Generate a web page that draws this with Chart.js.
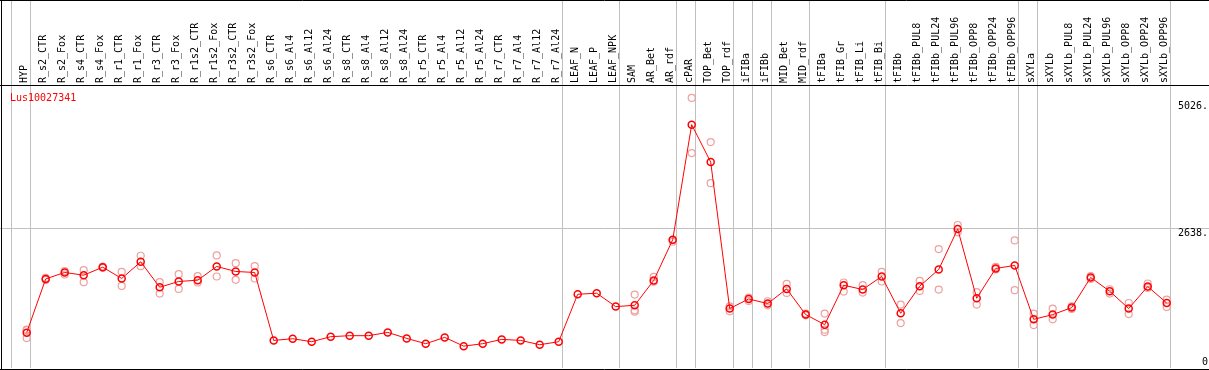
<!DOCTYPE html>
<html><head><meta charset="utf-8">
<script src="https://cdn.jsdelivr.net/npm/chart.js@4.4.1/dist/chart.umd.min.js"></script>
<style>html,body{margin:0;padding:0;background:#fff}canvas{display:block}</style>
</head><body>
<canvas id="c" width="1209" height="370"></canvas>
<script>
const geneName = 'Lus10027341';
const categories = ['HYP','R_s2_CTR','R_s2_Fox','R_s4_CTR','R_s4_Fox','R_r1_CTR','R_r1_Fox','R_r3_CTR','R_r3_Fox','R_r1s2_CTR','R_r1s2_Fox','R_r3s2_CTR','R_r3s2_Fox','R_s6_CTR','R_s6_Al4','R_s6_Al12','R_s6_Al24','R_s8_CTR','R_s8_Al4','R_s8_Al12','R_s8_Al24','R_r5_CTR','R_r5_Al4','R_r5_Al12','R_r5_Al24','R_r7_CTR','R_r7_Al4','R_r7_Al12','R_r7_Al24','LEAF_N','LEAF_P','LEAF_NPK','SAM','AR_Bet','AR_rdf','cPAR','TOP_Bet','TOP_rdf','iFIBa','iFIBb','MID_Bet','MID_rdf','tFIBa','tFIB_Gr','tFIB_Li','tFIB_Bi','tFIBb','tFIBb_PUL8','tFIBb_PUL24','tFIBb_PUL96','tFIBb_OPP8','tFIBb_OPP24','tFIBb_OPP96','sXYLa','sXYLb','sXYLb_PUL8','sXYLb_PUL24','sXYLb_PUL96','sXYLb_OPP8','sXYLb_OPP24','sXYLb_OPP96'];
const meanValues = [666,1679,1800,1749,1900,1687,2001,1522,1630,1655,1914,1819,1800,
  520,552,495,590,609,609,671,558,458,577,412,458,539,520,439,495,
  1390,1409,1157,1182,1649,2417,4586,3880,1120,1301,1214,1490,1006,
  817,1560,1479,1725,1031,1541,1857,2619,1314,1876,1933,
  917,1006,1138,1706,1447,1120,1536,1225];
const rep1 = [722,1698,1825,1844,1913,1812,2115,1617,1768,1730,2121,1976,1919,
  null,null,null,null,null,null,null,null,null,null,null,null,null,null,null,null,null,null,null,
  1384,1717,2411,5090,4258,1163,1327,1258,1585,1025,1025,1611,1560,1812,
  1195,1641,2241,2695,1428,1906,2405,1025,1119,1163,1730,1484,1225,1592,1290];
const rep2 = [564,1660,1762,1617,1888,1547,1919,1403,1491,1611,1724,1661,1687,
  null,null,null,null,null,null,null,null,null,null,null,null,null,null,null,null,null,null,null,
  1062,1623,2379,4050,3483,1068,1264,1182,1415,993,722,1441,1422,1630,
  847,1452,1478,2556,1195,1857,1466,809,917,1112,1679,1403,1017,1509,1150];
const rep3 = [712,null,null,null,null,null,null,null,null,null,null,null,null,
  null,null,null,null,null,null,null,null,null,null,null,null,null,null,null,null,null,null,null,
  1087,null,null,null,null,null,null,null,null,null,677,null,null,null,
  null,null,null,null,null,null,null,null,null,null,null,null,null,null,null];
const groupEnds = ['HYP','R_r7_Al24','LEAF_NPK','AR_rdf','cPAR','TOP_rdf','iFIBa','iFIBb','MID_rdf','tFIB_Bi','tFIBb_OPP96','sXYLa','sXYLb_OPP96'];
const yTickValues = [0, 2638, 5026];
const yTickLabels = ['0', '2638.', '5026.'];

const SEP_OFF = 4/19;
const sepIdx = [-1].concat(groupEnds.map(n => categories.indexOf(n)));
const FONT = {family: 'DejaVu Sans Mono', size: 10, lineHeight: 1.0};

const meanPts = meanValues.map((v,i)=>({x:i,y:v}));
const repPts = [];
[rep1,rep2,rep3].forEach(arr => arr.forEach((v,i)=>{ if (v!==null) repPts.push({x:i,y:v}); }));

const framePlugin = {
  id: 'frame',
  afterDraw(chart) {
    const ctx = chart.ctx;
    ctx.save();
    ctx.strokeStyle = '#000'; ctx.lineWidth = 1;
    ctx.beginPath();
    ctx.moveTo(0, 0.5); ctx.lineTo(1209, 0.5);
    ctx.moveTo(1.5, 0); ctx.lineTo(1.5, 370);
    ctx.moveTo(0, 369.5); ctx.lineTo(1209, 369.5);
    ctx.stroke();
    ctx.fillStyle = '#ff0000';
    ctx.font = '10px "DejaVu Sans Mono"';
    ctx.textBaseline = 'middle'; ctx.textAlign = 'left';
    ctx.fillText(chart.data.datasets[0].label, 10, 98);
    ctx.restore();
  }
};

new Chart(document.getElementById('c'), {
  type: 'scatter',
  data: { datasets: [
    { label: geneName, data: meanPts, showLine: true, borderColor: '#ff0000', borderWidth: 1,
      pointRadius: 3.5, pointBorderWidth: 1.5, pointBorderColor: '#ff0000', pointBackgroundColor: 'rgba(0,0,0,0)', pointHoverRadius: 3.5 },
    { label: 'replicates', data: repPts, showLine: false,
      pointRadius: 3.5, pointBorderWidth: 1.2, pointBorderColor: '#eea0a0', pointBackgroundColor: 'rgba(0,0,0,0)', pointHoverRadius: 3.5 }
  ]},
  options: {
    responsive: false, animation: false, devicePixelRatio: 1,
    layout: { autoPadding: false, padding: { left: 0, right: 0, top: 0, bottom: 2 } },
    plugins: { legend: { display: false }, tooltip: { enabled: false } },
    scales: {
      x: {
        type: 'linear', position: 'top',
        min: -26.7/19, max: -26.7/19 + 1209/19,
        afterBuildTicks(scale) {
          scale.ticks = categories.map((c,i)=>({value:i})).concat(sepIdx.map(i=>({value:i+SEP_OFF, sep:true})));
        },
        afterFit(scale) { scale.height = 85; scale.paddingLeft = 0; scale.paddingRight = 0; },
        ticks: {
          autoSkip: false, minRotation: 90, maxRotation: 90, padding: -83, labelOffset: 8, color: '#000', font: FONT,
          callback: (v, idx, ticks) => ticks[idx].sep ? '' : categories[Math.round(v)]
        },
        grid: {
          drawOnChartArea: true, drawTicks: true, tickLength: 85, lineWidth: 1,
          color: ctx => (ctx.tick && ctx.tick.sep) ? '#c0c0c0' : 'rgba(0,0,0,0)'
        },
        border: { display: true, color: '#000', width: 1 }
      },
      y: {
        type: 'linear', position: 'right', min: 0, max: 5333,
        afterBuildTicks(scale) { scale.ticks = yTickValues.map(v=>({value:v})); },
        afterFit(scale) { scale.width = 0; scale.paddingTop = 0; scale.paddingBottom = 0; },
        ticks: {
          mirror: true, padding: -1, color: '#000', font: {family: 'DejaVu Sans Mono', size: 10, lineHeight: 1.1},
          callback: v => { const s = yTickLabels[yTickValues.indexOf(v)]; return v === 0 ? [s, ''] : ['', s]; }
        },
        grid: { drawTicks: false, lineWidth: 1, color: ctx => (ctx.tick && ctx.tick.value === 2638) ? '#c0c0c0' : 'rgba(0,0,0,0)' },
        border: { display: false }
      }
    }
  },
  plugins: [framePlugin]
});
</script>
</body></html>
